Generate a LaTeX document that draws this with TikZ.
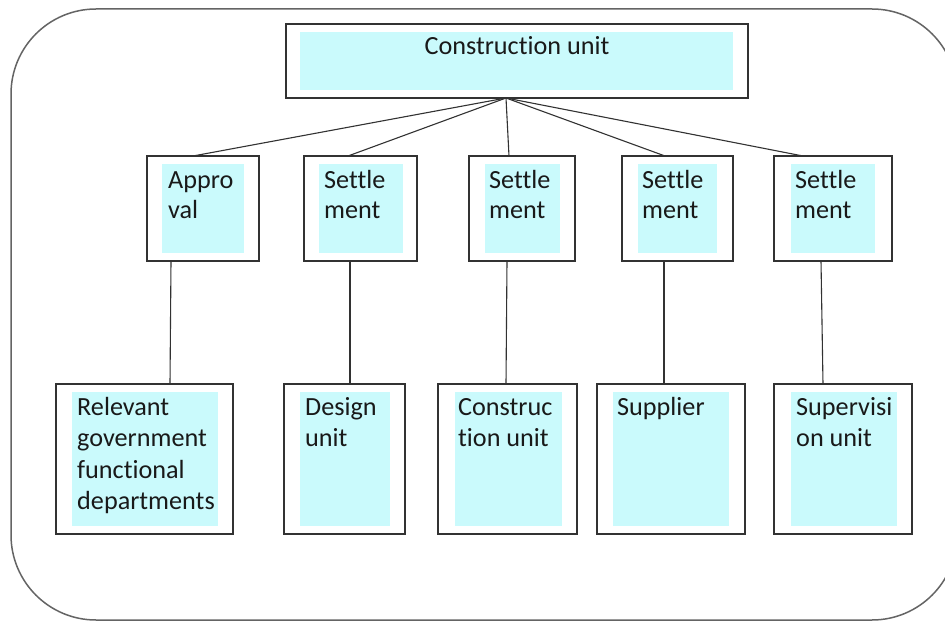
\documentclass[tikz,border=0pt]{standalone}
\usepackage{fontspec}
\setmainfont{Carlito}[Ligatures=NoCommon]
\definecolor{cy}{RGB}{202,250,252}
\definecolor{ln}{RGB}{50,50,50}
\definecolor{fr}{RGB}{100,100,100}
\definecolor{tx}{RGB}{25,25,25}
\newcommand\mybox[5]{\node[outerbox, anchor=north west, minimum width={#4-#2}, minimum height={#5-#3}] (#1) at (#2,#3) {};}
\newcommand\mycyan[5]{\node[cyanbox, anchor=north west, minimum width={#4-#2}, minimum height={#5-#3}] (#1) at (#2,#3) {};}
\begin{document}
\begin{tikzpicture}[x=1pt,y=-1pt,
  outerbox/.style={draw=ln, line width=1.3pt, fill=white, inner sep=0pt, outer sep=0pt},
  cyanbox/.style={fill=cy, draw=none, inner sep=0pt, outer sep=0pt},
  midtxt/.style={text=tx, inner sep=0pt, align=left, font=\fontsize{26.2pt}{30pt}\selectfont},
  bottxt/.style={text=tx, inner sep=0pt, align=left, font=\fontsize{26.2pt}{31.5pt}\selectfont},
  conn/.style={draw=ln, line width=1.1pt}]
\clip (0,0) rectangle (945,623);
\fill[white] (0,0) rectangle (945,623);
\draw[fr, line width=1.5pt, rounded corners=85pt] (11,9) rectangle (957,620);
% top box
\mybox{top}{286}{24}{748}{98}
\mycyan{topc}{300}{32}{733}{90}
\node[midtxt, anchor=base] (topt) at (517,55) {Construction unit};
% middle boxes (base anchor = baseline of last line)
\mybox{m1}{147}{156}{259}{261}
\mycyan{m1c}{162}{164}{244}{253}
\node[midtxt, anchor=base west] (m1t) at (168,218) {Appro\\val};
\mybox{m2}{304}{156}{417}{261}
\mycyan{m2c}{319}{164}{403}{253}
\node[midtxt, anchor=base west] (m2t) at (324,218) {Settle\\ment};
\mybox{m3}{469}{156}{575}{261}
\mycyan{m3c}{485}{164}{560}{253}
\node[midtxt, anchor=base west] (m3t) at (489,218) {Settle\\ment};
\mybox{m4}{622}{156}{733}{261}
\mycyan{m4c}{638}{164}{717}{253}
\node[midtxt, anchor=base west] (m4t) at (642,218) {Settle\\ment};
\mybox{m5}{774}{156}{892}{261}
\mycyan{m5c}{791}{164}{875}{253}
\node[midtxt, anchor=base west] (m5t) at (795,218) {Settle\\ment};
% bottom boxes
\mybox{b1}{56}{384}{233}{534}
\mycyan{b1c}{72}{392}{218}{526}
\node[bottxt, anchor=base west] (b1t) at (77,509.5) {Relevant\\government\\functional\\departments};
\mybox{b2}{284}{384}{405}{534}
\mycyan{b2c}{300}{392}{390}{526}
\node[bottxt, anchor=base west] (b2t) at (305,446.5) {Design\\unit};
\mybox{b3}{438}{384}{577}{534}
\mycyan{b3c}{455}{392}{562}{526}
\node[bottxt, anchor=base west] (b3t) at (458,446.5) {Construc\\tion unit};
\mybox{b4}{597}{384}{745}{534}
\mycyan{b4c}{613}{392}{729}{526}
\node[bottxt, anchor=base west] (b4t) at (617,415) {Supplier};
\mybox{b5}{774}{384}{912}{534}
\mycyan{b5c}{791}{392}{897}{526}
\node[bottxt, anchor=base west] (b5t) at (796,446.5) {Supervisi\\on unit};
% connectors
\coordinate (hub) at (506,98);
\coordinate (a1) at (193,156);
\coordinate (a2) at (348,156);
\coordinate (a3) at (509,156);
\coordinate (a4) at (665,156);
\coordinate (a5) at (803,156);
\foreach \i in {1,...,5} {\draw[conn] (hub) -- (a\i);}
\coordinate (v1t) at (171,261); \coordinate (v1b) at (170,384);
\coordinate (v2t) at (350,261); \coordinate (v2b) at (350,384);
\coordinate (v3t) at (507,261); \coordinate (v3b) at (506,384);
\coordinate (v4t) at (664,261); \coordinate (v4b) at (664,384);
\coordinate (v5t) at (821,261); \coordinate (v5b) at (823,384);
\foreach \i in {1,...,5} {\draw[conn] (v\i t) -- (v\i b);}
\end{tikzpicture}
\end{document}
